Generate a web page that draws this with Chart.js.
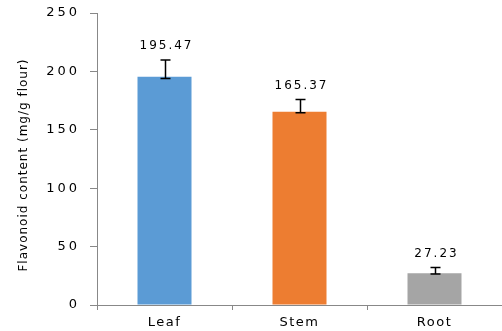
<!DOCTYPE html>
<html><head><meta charset="utf-8">
<script src="https://cdn.jsdelivr.net/npm/chart.js@4/dist/chart.umd.min.js"></script>
<style>html,body{margin:0;padding:0;background:#fff}canvas{display:block}</style>
</head><body>
<canvas id="c" width="502" height="331"></canvas>
<script>
const categories = ['Leaf', 'Stem', 'Root'];
const values = [195.47, 165.37, 27.23];
const errHigh = [209.8, 176.0, 32.0];
const errLow = [194.0, 164.5, 26.6];
const valueLabels = ['195.47', '165.37', '27.23'];
const barColors = ['#5B9BD5', '#ED7D31', '#A5A5A5'];
const yTicks = [0, 50, 100, 150, 200, 250];
const axisColor = '#888888';

const spacingPlugin = {
  id: 'spacing',
  beforeDraw(chart) {
    const wrap = (scale, labelSp, titleSp, titleShift) => {
      if (scale._wrapped) return;
      scale._wrapped = true;
      const dl = scale.drawLabels.bind(scale);
      scale.drawLabels = function (a) { const c = this.ctx; c.save(); c.letterSpacing = labelSp; dl(a); c.restore(); };
      const dt = scale.drawTitle.bind(scale);
      scale.drawTitle = function (a) { const c = this.ctx; c.save(); c.translate(0, titleShift); c.letterSpacing = titleSp; dt(a); c.restore(); };
    };
    wrap(chart.scales.y, '3px', '1px', 6);
    wrap(chart.scales.x, '1.5px', '0px', 0);
  }
};

const errPlugin = {
  id: 'errbars',
  afterDatasetsDraw(chart) {
    const ctx = chart.ctx, y = chart.scales.y;
    const meta = chart.getDatasetMeta(0);
    ctx.save();
    ctx.strokeStyle = '#000';
    ctx.lineWidth = 1.5;
    meta.data.forEach((bar, i) => {
      const cx = Math.round(bar.x) + 0.5;
      const yt = y.getPixelForValue(errHigh[i]);
      const yb = y.getPixelForValue(errLow[i]);
      ctx.beginPath();
      ctx.moveTo(cx, yt); ctx.lineTo(cx, yb);
      ctx.moveTo(cx - 5, yt); ctx.lineTo(cx + 5, yt);
      ctx.moveTo(cx - 5, yb); ctx.lineTo(cx + 5, yb);
      ctx.stroke();
      ctx.letterSpacing = '2px';
      ctx.font = '12px "DejaVu Sans"';
      ctx.fillStyle = '#000';
      ctx.textAlign = 'center';
      ctx.textBaseline = 'middle';
      ctx.fillText(valueLabels[i], cx + 1, yt - 14);
    });
    ctx.restore();
  }
};

new Chart(document.getElementById('c'), {
  type: 'bar',
  data: {
    labels: categories,
    datasets: [{
      data: values,
      backgroundColor: barColors,
      borderWidth: 0,
      barPercentage: 0.4,
      categoryPercentage: 1.0
    }]
  },
  options: {
    responsive: false,
    animation: false,
    devicePixelRatio: 1,
    layout: { padding: { top: 13, left: 0, right: 0, bottom: 0 } },
    plugins: { legend: { display: false }, tooltip: { enabled: false } },
    scales: {
      x: {
        offset: true,
        grid: { display: true, drawOnChartArea: false, offset: true, tickLength: 5, color: axisColor, lineWidth: 1 },
        border: { color: axisColor, width: 1 },
        ticks: { color: '#000', font: { family: 'DejaVu Sans', size: 13 }, padding: 5, maxRotation: 0 },
        afterFit(s) { s.height = 26; s.paddingLeft = 0; s.paddingRight = 0; }
      },
      y: {
        min: 0, max: 250,
        afterBuildTicks(s) { s.ticks = yTicks.map(v => ({ value: v })); },
        grid: { display: true, drawOnChartArea: false, tickLength: 7, color: axisColor, lineWidth: 1 },
        border: { color: axisColor, width: 1 },
        ticks: { color: '#000', font: { family: 'DejaVu Sans', size: 13 }, padding: 10 },
        title: { display: true, text: 'Flavonoid content (mg/g flour)', color: '#000', font: { family: 'DejaVu Sans', size: 12 }, padding: { top: 17, bottom: 0 } },
        afterFit(s) { s.width = 97; s.paddingTop = 0; s.paddingBottom = 0; }
      }
    }
  },
  plugins: [spacingPlugin, errPlugin]
});
</script>
</body></html>
